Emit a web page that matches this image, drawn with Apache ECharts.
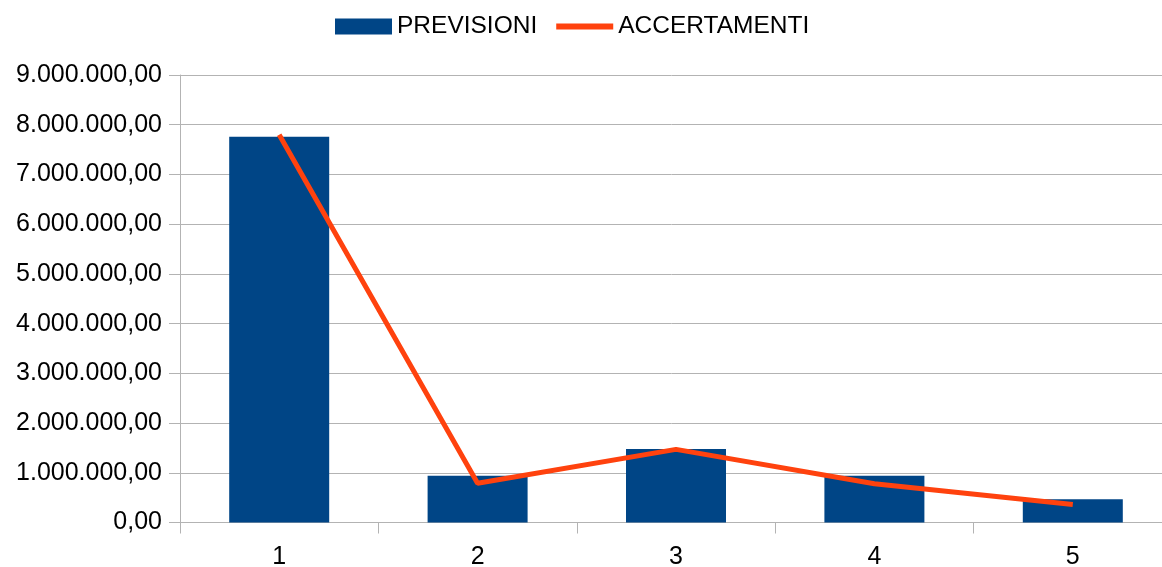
<!DOCTYPE html>
<html>
<head>
<meta charset="utf-8">
<script src="https://cdn.jsdelivr.net/npm/echarts@6/dist/echarts.min.js"></script>
<style>
html,body{margin:0;padding:0;background:#fff;}
#chart{width:1162px;height:567px;}
</style>
</head>
<body>
<div id="chart"></div>
<script>
const categories = ['1', '2', '3', '4', '5'];
const previsioni = [7760000, 940000, 1480000, 940000, 470000];
const accertamenti = [7800000, 790000, 1470000, 780000, 360000];
const seriesNames = ['PREVISIONI', 'ACCERTAMENTI'];

function fmt(v) {
  const neg = v < 0;
  v = Math.abs(v);
  let s = v.toFixed(2);
  let [i, d] = s.split('.');
  i = i.replace(/\B(?=(\d{3})+(?!\d))/g, '.');
  return (neg ? '-' : '') + i + ',' + d;
}

const chart = echarts.init(document.getElementById('chart'), null, {renderer: 'canvas'});
const font = 'Liberation Sans';
chart.setOption({
  animation: false,
  textStyle: {fontFamily: font},
  legend: {
    top: 14,
    left: 335,
    padding: 0,
    itemWidth: 57,
    itemHeight: 16,
    itemGap: 19,
    textStyle: {fontFamily: font, fontSize: 24.5, color: '#000'},
    data: [
      {name: seriesNames[0], icon: 'rect'},
      {name: seriesNames[1], icon: 'path://M0,0L57,0L57,6L0,6Z', itemStyle: {color: '#ff420e'}}
    ]
  },
  grid: {left: 180, top: 75, width: 992, height: 447.5, containLabel: false, outerBoundsMode: 'none'},
  xAxis: {
    type: 'category',
    data: categories,
    boundaryGap: true,
    axisLine: {lineStyle: {color: '#b3b3b3', width: 1}},
    axisTick: {show: true, length: 11, lineStyle: {color: '#b3b3b3'}},
    axisLabel: {fontFamily: font, fontSize: 25, color: '#000', margin: 22}
  },
  yAxis: {
    type: 'value',
    min: 0,
    max: 9000000,
    interval: 1000000,
    axisLine: {show: true, lineStyle: {color: '#b3b3b3', width: 1}},
    axisTick: {show: true, length: 11, lineStyle: {color: '#b3b3b3'}},
    splitLine: {lineStyle: {color: '#b3b3b3', width: 1}},
    axisLabel: {fontFamily: font, fontSize: 25, color: '#000', margin: 18, formatter: fmt}
  },
  series: [
    {
      name: seriesNames[0],
      type: 'bar',
      data: previsioni,
      barWidth: 100,
      itemStyle: {color: '#004586'}
    },
    {
      name: seriesNames[1],
      type: 'line',
      data: accertamenti,
      symbol: 'none',
      lineStyle: {color: '#ff420e', width: 5},
      itemStyle: {color: '#ff420e'}
    }
  ]
});
</script>
</body>
</html>
